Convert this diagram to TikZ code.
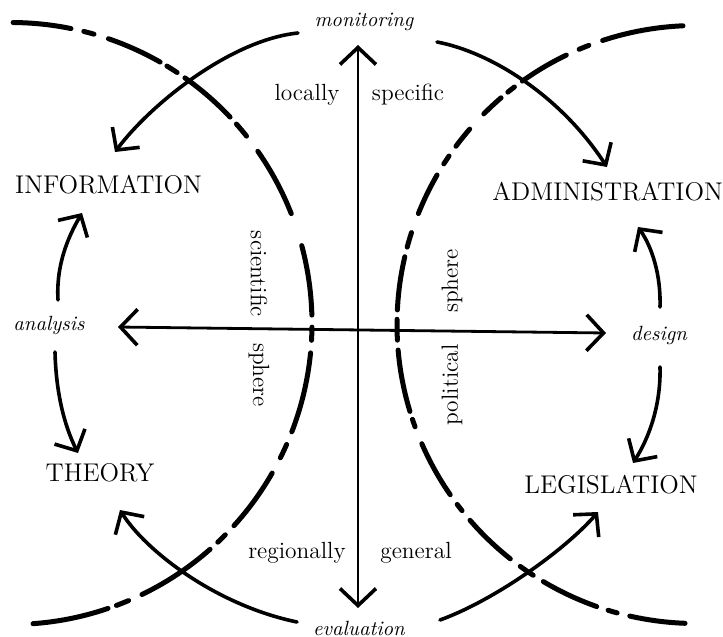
\documentclass[tikz,border=0pt]{standalone}
\usetikzlibrary{arrows.meta}
\newcommand\lseg[2]{\draw[arcline] plot[domain=#1:#2,samples=16,smooth] ({11+301*cos(\x)},{323.5+301*sin(\x)});}
\newcommand\rseg[2]{\draw[arcline] plot[domain=#1:#2,samples=16,smooth] ({696+299*cos(\x)},{324.5+299*sin(\x)});}
\begin{document}
\begin{tikzpicture}[x=0.5pt,y=-0.5pt,
  arcline/.style={line width=2.5pt,line cap=round},
  arr/.style={line width=1.8pt,line cap=round,-{Straight Barb[length=8pt,width=17pt,line width=1.8pt]}},
  axisline/.style={line width=1.4pt,{Straight Barb[length=8.5pt,width=18pt,line width=1.8pt]}-{Straight Barb[length=8.5pt,width=18pt,line width=1.8pt]}},
  capt/.style={font=\fontsize{12.8}{15}\selectfont, inner sep=0pt},
  ital/.style={font=\fontsize{10.3}{12}\selectfont\itshape, inner sep=0pt},
  lab/.style={font=\fontsize{11.7}{14}\selectfont, inner sep=0pt}]
\useasboundingbox (0,0) rectangle (723,637);

% dashed spheres
\lseg{-89.6}{-78.5}\lseg{-76}{-74}\lseg{-71.1}{-60.3}\lseg{-58.8}{-56.5}
\lseg{-54.7}{-43.3}\lseg{-41.5}{-38.5}\lseg{-34.9}{-21.4}\lseg{-15}{-1.6}
\lseg{0.7}{3.2}\lseg{5.6}{21.1}\lseg{23.7}{26.5}\lseg{29.8}{42.2}
\lseg{44.6}{46.6}\lseg{48.6}{64.2}\lseg{67}{69.5}\lseg{71.2}{85.8}

\rseg{-108.2}{-92.5}\rseg{-113}{-111}\rseg{-125.5}{-115.7}\rseg{-129}{-127.4}
\rseg{-135.2}{-130.7}\rseg{-143.4}{-139.2}\rseg{-147.5}{-145.7}\rseg{-158.2}{-150}
\rseg{-165}{-162.1}\rseg{-177.2}{-166.9}\rseg{177}{181}\rseg{163.1}{175.1}
\rseg{160}{161.5}\rseg{145.3}{156.5}\rseg{141.5}{143}\rseg{128.4}{139.1}
\rseg{123}{126}\rseg{109.4}{120.7}\rseg{105.3}{107.1}\rseg{92.1}{102.8}

% text nodes
\node[ital] (mon) at (364,22) {monitoring};
\node[ital] (eva) at (359,628) {evaluation};
\node[ital] (ana) at (49,325) {analysis};
\node[ital] (des) at (659,335) {design};
\node[capt] (inf) at (108.5,185) {INFORMATION};
\node[capt,anchor=west] (adm) at (492,192) {ADMINISTRATION};
\node[capt] (the) at (100,473) {THEORY};
\node[capt] (leg) at (611,485) {LEGISLATION};
\node[lab] (loc) at (307,95) {locally};
\node[lab] (spe) at (408,95) {specific};
\node[lab] (reg) at (297,553) {regionally};
\node[lab] (gen) at (416,553) {general};
\node[lab,rotate=-90] (sci) at (259,274) {scientific};
\node[lab,rotate=-90] (sph1) at (259,375) {sphere};
\node[lab,rotate=90] (sph2) at (452,281) {sphere};
\node[lab,rotate=90] (pol) at (452,385) {political};

% connector end points
\coordinate (vtop) at (358,45);
\coordinate (vbot) at (358,608);
\coordinate (hl) at (118,327);
\coordinate (hr) at (606,333);
\coordinate (m1s) at (298,33);  \coordinate (m1e) at (115,152);
\coordinate (m2s) at (437,42);  \coordinate (m2e) at (607,167);
\coordinate (e1s) at (297,622); \coordinate (e1e) at (120,510);
\coordinate (e2s) at (440,620); \coordinate (e2e) at (598,512);
\coordinate (a1s) at (58,300);  \coordinate (a1e) at (82,213);
\coordinate (a2s) at (55,352);  \coordinate (a2e) at (78,453);
\coordinate (d1s) at (660,307); \coordinate (d1e) at (638,227);
\coordinate (d2s) at (660,367); \coordinate (d2e) at (633,463);

% axes
\draw[axisline] (vbot) -- (vtop);
\draw[axisline] (hl) -- (hr);

% curved arrows
\draw[arr] (m1s) .. controls (230,40) and (150,105) .. (m1e);
\draw[arr] (m2s) .. controls (490,52) and (560,95) .. (m2e);
\draw[arr] (e1s) .. controls (215,605) and (145,550) .. (e1e);
\draw[arr] (e2s) .. controls (495,600) and (565,550) .. (e2e);
\draw[arr] (a1s) .. controls (56,265) and (68,237) .. (a1e);
\draw[arr] (a2s) .. controls (56,392) and (64,425) .. (a2e);
\draw[arr] (d1s) .. controls (661,275) and (652,247) .. (d1e);
\draw[arr] (d2s) .. controls (661,405) and (649,438) .. (d2e);
\end{tikzpicture}
\end{document}
